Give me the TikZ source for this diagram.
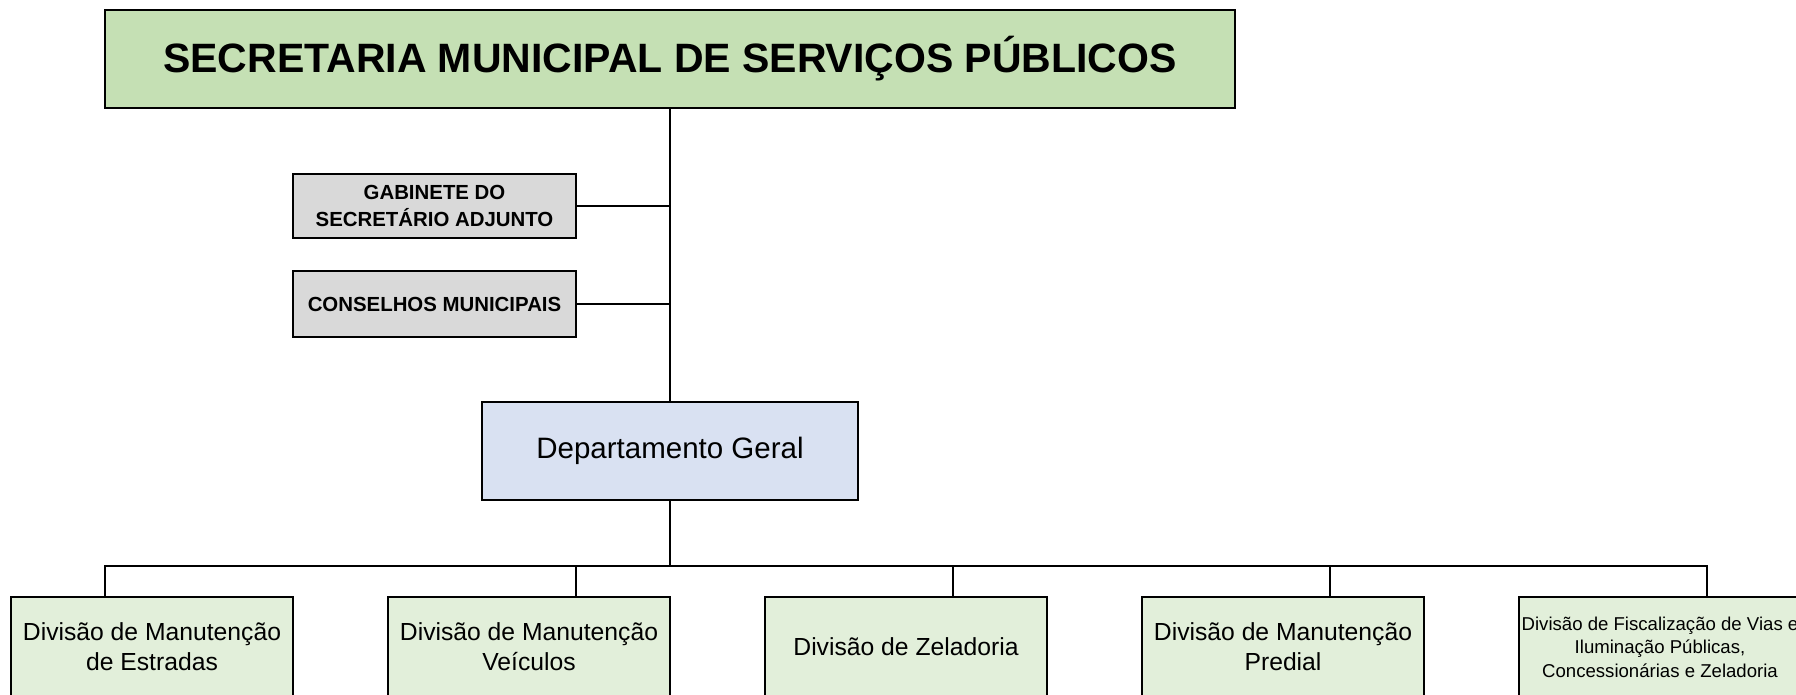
\documentclass[tikz,border=0pt]{standalone}
\usepackage{fontspec}
\setmainfont{Liberation Sans}

\definecolor{verdeTitulo}{HTML}{C5E0B4}
\definecolor{cinzaCaixa}{HTML}{D9D9D9}
\definecolor{azulDep}{HTML}{D9E1F2}
\definecolor{verdeDiv}{HTML}{E2EFDA}

\begin{document}
\begin{tikzpicture}[x=1pt, y=-1pt,
    caixa/.style={draw=black, line width=1.8pt, inner sep=0pt, align=center},
    linha/.style={line width=1.8pt}]

    % área do desenho (1 pt = 1 pixel)
    \useasboundingbox (0,0) rectangle (1796,694);

    % secretaria no topo
    \node[caixa, fill=verdeTitulo, minimum width=1130pt, minimum height=98pt,
          font=\bfseries\fontsize{41}{49}\selectfont] (secretaria) at (670,59)
          {SECRETARIA MUNICIPAL DE SERVIÇOS PÚBLICOS};

    % órgãos de assessoria
    \node[caixa, fill=cinzaCaixa, minimum width=283pt, minimum height=64pt,
          font=\bfseries\fontsize{20.4}{27.5}\selectfont] (gabinete) at (434.5,206)
          {GABINETE DO\\SECRETÁRIO ADJUNTO};
    \node[caixa, fill=cinzaCaixa, minimum width=283pt, minimum height=66pt,
          font=\bfseries\fontsize{20.4}{27.5}\selectfont] (conselhos) at (434.5,304)
          {CONSELHOS MUNICIPAIS};

    % departamento geral
    \node[caixa, fill=azulDep, minimum width=376pt, minimum height=98pt,
          font=\fontsize{29.5}{35}\selectfont] (departamento) at (670,451)
          {Departamento Geral};

    % divisões (a última sai da página)
    \node[caixa, fill=verdeDiv, minimum width=282pt, minimum height=100pt,
          font=\fontsize{24.7}{30}\selectfont] (divEstradas) at (152,647)
          {Divisão de Manutenção\\de Estradas};
    \node[caixa, fill=verdeDiv, minimum width=282pt, minimum height=100pt,
          font=\fontsize{24.7}{30}\selectfont] (divVeiculos) at (529,647)
          {Divisão de Manutenção\\Veículos};
    \node[caixa, fill=verdeDiv, minimum width=282pt, minimum height=100pt,
          font=\fontsize{24.7}{30}\selectfont] (divZeladoria) at (906,647)
          {Divisão de Zeladoria};
    \node[caixa, fill=verdeDiv, minimum width=282pt, minimum height=100pt,
          font=\fontsize{24.7}{30}\selectfont] (divPredial) at (1283,647)
          {Divisão de Manutenção\\Predial};
    \node[caixa, fill=verdeDiv, minimum width=282pt, minimum height=100pt,
          font=\fontsize{18.6}{23.5}\selectfont] (divFiscalizacao) at (1660,647)
          {Divisão de Fiscalização de Vias e\\Iluminação Públicas,\\Concessionárias e Zeladoria};

    % pontos da barra horizontal
    \coordinate (barra) at (670,566);
    \coordinate (tapA) at (105,566);
    \coordinate (tapB) at (576,566);
    \coordinate (tapC) at (953,566);
    \coordinate (tapD) at (1330,566);
    \coordinate (tapE) at (1707,566);

    % linha principal e assessorias
    \draw[linha] (secretaria.south) -- (departamento.north);
    \draw[linha] (gabinete.east) -- (gabinete.east -| secretaria.south);
    \draw[linha] (conselhos.east) -- (conselhos.east -| secretaria.south);

    % ligação às divisões
    \draw[linha] (departamento.south) -- (barra);
    \draw[linha] (tapA |- divEstradas.north) -- (tapA) -- (tapE) -- (tapE |- divFiscalizacao.north);
    \draw[linha] (tapB) -- (tapB |- divVeiculos.north);
    \draw[linha] (tapC) -- (tapC |- divZeladoria.north);
    \draw[linha] (tapD) -- (tapD |- divPredial.north);

\end{tikzpicture}
\end{document}
